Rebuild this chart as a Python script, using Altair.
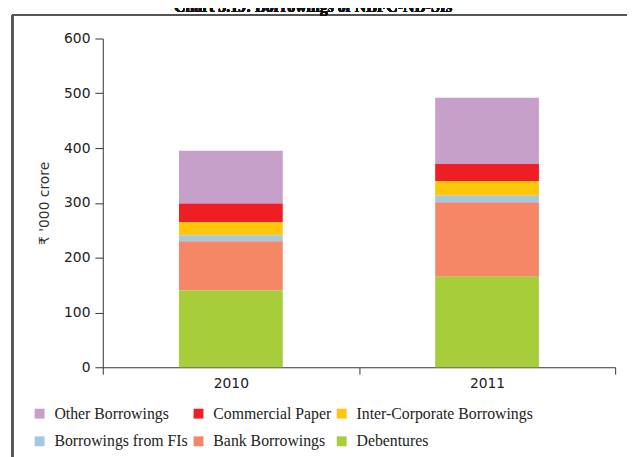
import altair as alt
import pandas as pd

years = ["2010", "2011"]
categories = ["Other Borrowings", "Commercial Paper", "Inter-Corporate Borrowings",
              "Borrowings from FIs", "Bank Borrowings", "Debentures"]
colors = ["#C6A0C9", "#EE1E25", "#FFC60B", "#A3C9E2", "#F58766", "#A7CE3A"]
stack_rank = [5, 4, 3, 2, 1, 0]
values_2010 = [96, 34, 24, 11, 90, 140]
values_2011 = [121, 31, 27, 12, 136, 165]

# legend fills column-major: reorder so rows read as in the reference
legend_order = [0, 3, 1, 4, 2, 5]
dom = [categories[i] for i in legend_order]
rng = [colors[i] for i in legend_order]

rows = []
for cat, rank, v10, v11 in zip(categories, stack_rank, values_2010, values_2011):
    rows.append({"year": "2010", "category": cat, "rank": rank, "value": v10})
    rows.append({"year": "2011", "category": cat, "rank": rank, "value": v11})
df = pd.DataFrame(rows)

W, H = 519, 333

bars = alt.Chart(df).mark_bar(width=alt.RelativeBandSize(0.405)).encode(
    x=alt.X("year:N", sort=years,
            scale=alt.Scale(paddingInner=0, paddingOuter=0),
            axis=alt.Axis(title=None, labelAngle=0, tickBand="extent",
                          labelFont="DejaVu Sans", labelFontSize=14,
                          labelColor="#222", labelPadding=3, tickSize=7,
                          domainColor="#333", tickColor="#333")),
    y=alt.Y("value:Q", stack="zero",
            scale=alt.Scale(domain=[0, 600], nice=False),
            axis=alt.Axis(title="₹ '000 crore", values=[0, 100, 200, 300, 400, 500, 600],
                          grid=False, titleFont="DejaVu Sans", titleFontSize=14,
                          titleFontWeight="normal", titleColor="#333", titlePadding=12,
                          labelFont="DejaVu Sans", labelFontSize=14, labelColor="#222",
                          tickSize=8, labelPadding=5, domainColor="#333", tickColor="#333")),
    color=alt.Color("category:N",
                    scale=alt.Scale(domain=dom, range=rng),
                    legend=alt.Legend(title=None, orient="none", legendX=-72, legendY=372,
                                      columns=3, symbolType="square", symbolSize=100,
                                      symbolStrokeWidth=0, labelFont="Liberation Serif",
                                      labelFontSize=16, labelColor="#222", labelOffset=7,
                                      labelLimit=0, rowPadding=12, columnPadding=2)),
    order=alt.Order("rank:Q", sort="ascending"),
)

frame_left = alt.Chart(df).mark_rule(color="#555", strokeWidth=1.5).encode(
    x=alt.value(-91.5), y=alt.value(-23.5), y2=alt.value(430))
frame_top = alt.Chart(df).mark_rule(color="#555", strokeWidth=1.5).encode(
    x=alt.value(-91.5), x2=alt.value(540), y=alt.value(-23.5))
title = alt.Chart(df).mark_text(font="Liberation Serif", fontSize=16, fontWeight="bold",
                                color="#111", baseline="alphabetic").encode(
    x=alt.value(213), y=alt.value(-27), text=alt.value("Chart 3.19: Borrowings of NBFC-ND-SIs"))

chart = alt.layer(bars, frame_left, frame_top, title).properties(
    width=W, height=H,
    background="white",
    autosize=alt.AutoSizeParams(type="none"),
    padding={"left": 96, "top": 28, "right": 12, "bottom": 88},
).configure_view(stroke=None)

chart.save("out.html", embed_options={"renderer": "svg", "actions": False})
